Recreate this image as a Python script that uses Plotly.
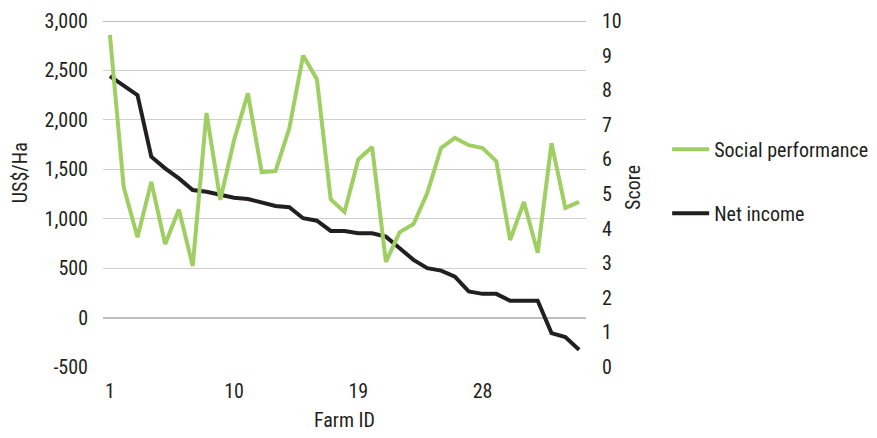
import plotly.graph_objects as go

farm_ids = list(range(1, 36))
social_performance = [9.6, 5.2, 3.75, 5.35, 3.55, 4.55, 2.92, 7.34, 4.83, 6.56,
                      7.91, 5.63, 5.66, 6.9, 9.0, 8.32, 4.85, 4.48, 6.0, 6.36,
                      3.04, 3.9, 4.13, 5.03, 6.33, 6.62, 6.41, 6.33, 5.95, 3.67,
                      4.77, 3.3, 6.47, 4.6, 4.77]
net_income = [2442, 2340, 2250, 1627, 1510, 1408, 1290, 1273, 1240, 1213,
              1200, 1162, 1129, 1116, 1005, 980, 876, 876, 853, 853,
              819, 702, 584, 500, 475, 415, 264, 240, 240, 170,
              170, 170, -157, -197, -325]
x_ticks = [1, 10, 19, 28]
left_ticks = [-500, 0, 500, 1000, 1500, 2000, 2500, 3000]
left_tick_labels = ["-500", "0", "500", "1,000", "1,500", "2,000", "2,500", "3,000"]
right_ticks = list(range(0, 11))

FONT = "Roboto Condensed, Roboto, sans-serif"
TXT = "#231f20"

fig = go.Figure()
fig.add_trace(go.Scatter(x=farm_ids, y=social_performance, name="Social performance",
                         mode="lines", line=dict(color="#9fcf63", width=4),
                         yaxis="y2", legendgroup="a"))
fig.add_trace(go.Scatter(x=farm_ids, y=net_income, name="Net income",
                         mode="lines", line=dict(color="#231f20", width=4),
                         yaxis="y", legendgroup="b"))

fig.update_layout(
    width=877, height=438,
    margin=dict(l=103, r=291, t=21, b=71, autoexpand=False),
    paper_bgcolor="white", plot_bgcolor="white",
    font=dict(family=FONT, size=20, color=TXT),
    showlegend=True,
    legend=dict(x=1.168, y=0.686, xanchor="left", yanchor="top",
                traceorder="grouped", tracegroupgap=35, itemwidth=37,
                font=dict(size=20, color=TXT), bgcolor="rgba(0,0,0,0)"),
    xaxis=dict(range=[0.5, 35.5], tickmode="array", tickvals=x_ticks,
               showgrid=False, zeroline=False, showline=False,
               ticks="outside", ticklen=6, tickcolor="rgba(0,0,0,0)",
               tickfont=dict(size=20, color=TXT)),
    yaxis=dict(range=[-500, 3000], tickmode="array", tickvals=left_ticks,
               ticktext=left_tick_labels, showgrid=True, gridcolor="#d0d0d0", gridwidth=1,
               zeroline=True, zerolinecolor="#bdbdbd", zerolinewidth=2,
               showline=False, ticks="outside", ticklen=10,
               tickcolor="rgba(0,0,0,0)", tickfont=dict(size=20, color=TXT)),
    yaxis2=dict(range=[0, 10], tickmode="array", tickvals=right_ticks,
                overlaying="y", side="right", showgrid=False, zeroline=False,
                showline=False, ticks="outside", ticklen=11,
                tickcolor="rgba(0,0,0,0)", tickfont=dict(size=20, color=TXT)),
    shapes=[dict(type="line", xref="paper", yref="y", x0=0, x1=1, y0=3000, y1=3000,
                 line=dict(color="#bdbdbd", width=2), layer="below")],
    annotations=[
        dict(text="US$/Ha", x=-0.172, y=0.563, xref="paper", yref="paper",
             xanchor="center", yanchor="middle",
             textangle=-90, showarrow=False, font=dict(size=20, color=TXT)),
        dict(text="Score", x=1.097, y=0.52, xref="paper", yref="paper",
             xanchor="center", yanchor="middle",
             textangle=-90, showarrow=False, font=dict(size=20, color=TXT)),
        dict(text="Farm ID", x=0.5, y=-0.153, xref="paper", yref="paper",
             xanchor="center", yanchor="middle",
             showarrow=False, font=dict(size=20, color=TXT)),
    ],
)

fig.write_html("out.html", config={"displayModeBar": False},
               post_script="document.body.style.margin='0';")
